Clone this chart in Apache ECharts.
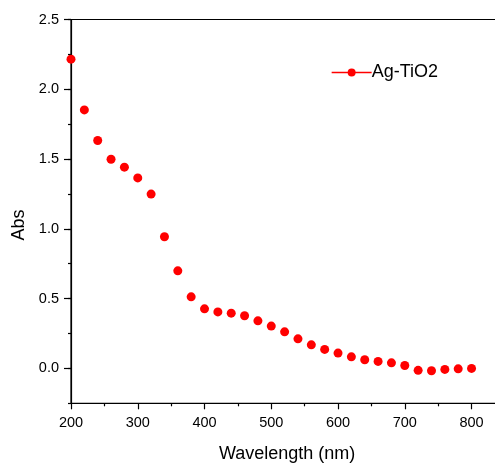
<!DOCTYPE html>
<html><head><meta charset="utf-8">
<script src="https://cdn.jsdelivr.net/npm/echarts@6/dist/echarts.min.js"></script>
<style>html,body{margin:0;padding:0;background:#fff}#c{width:495px;height:464px}</style>
</head><body><div id="c"></div>
<script>
const wavelength = [200,220,240,260,280,300,320,340,360,380,400,420,440,460,480,500,520,540,560,580,600,620,640,660,680,700,720,740,760,780,800];
const absValues = [2.216,1.852,1.633,1.499,1.442,1.365,1.249,0.943,0.699,0.513,0.427,0.405,0.396,0.377,0.341,0.303,0.262,0.212,0.169,0.136,0.110,0.083,0.062,0.050,0.040,0.021,-0.014,-0.017,-0.007,-0.003,0.000];
const yMajorTicks = [0,0.5,1.0,1.5,2.0,2.5];
const seriesName = 'Ag-TiO2';

const font = 'Liberation Sans, Arial, sans-serif';
const chart = echarts.init(document.getElementById('c'), null, {renderer:'canvas'});
chart.setOption({
  animation:false,
  backgroundColor:'#fff',
  grid:{left:71, top:19.5, right:-43.3, bottom:60.7, containLabel:false, outerBoundsMode:'none',
        show:true, borderColor:'#000', borderWidth:1.2, backgroundColor:'transparent'},
  legend:{
    show:true, left:326, top:58.5, itemWidth:40, itemHeight:10, itemGap:0,
    data:[seriesName],
    textStyle:{fontFamily:font, fontSize:18, color:'#000', padding:[0,0,0,-5]},
    lineStyle:{color:'#ff0000', width:1.3, opacity:1},
    itemStyle:{color:'#ff0000'}
  },
  xAxis:[{
    type:'value', min:200, max:900, interval:100,
    name:'Wavelength (nm)', nameLocation:'middle', nameGap:42,
    nameTextStyle:{fontFamily:font, fontSize:18, color:'#000', padding:[0,35,0,0]},
    axisLine:{show:true, onZero:false, lineStyle:{color:'#000', width:1.2}},
    axisTick:{show:true, inside:false, length:6, lineStyle:{color:'#000', width:1.2}},
    minorTick:{show:true, splitNumber:2, length:3, lineStyle:{color:'#000', width:1.2}},
    axisLabel:{fontFamily:font, fontSize:14.5, color:'#000', margin:12},
    splitLine:{show:false}
  }],
  yAxis:[{
    type:'value', min:-0.25, max:2.5, interval:0.25,
    name:'Abs', nameLocation:'middle', nameGap:42,
    nameTextStyle:{fontFamily:font, fontSize:18, color:'#000', padding:[0,27,0,0]},
    axisLine:{show:true, onZero:false, lineStyle:{color:'#000', width:1.2}},
    axisTick:{show:true, length:3, lineStyle:{color:'#000', width:1.2}},
    axisLabel:{fontFamily:font, fontSize:14.5, color:'#000', margin:12,
      formatter:function(v){ const r = Math.round(v*2)/2; return Math.abs(v-r)<1e-6 ? r.toFixed(1) : ''; }},
    splitLine:{show:false}
  },{
    type:'value', min:-0.25, max:2.5, interval:0.25, position:'left', offset:0,
    axisLine:{show:false},
    axisTick:{show:true, length:7, customValues:yMajorTicks, lineStyle:{color:'#000', width:1.2}},
    axisLabel:{show:false},
    splitLine:{show:false}
  }],
  series:[{
    name:seriesName, type:'line', xAxisIndex:0, yAxisIndex:0,
    data: wavelength.map((w,i)=>[w, absValues[i]]),
    symbol:'circle', symbolSize:9, showSymbol:true,
    itemStyle:{color:'#ff0000'},
    lineStyle:{color:'#ff0000', width:0, opacity:0},
    clip:false
  }]
});
</script></body></html>
